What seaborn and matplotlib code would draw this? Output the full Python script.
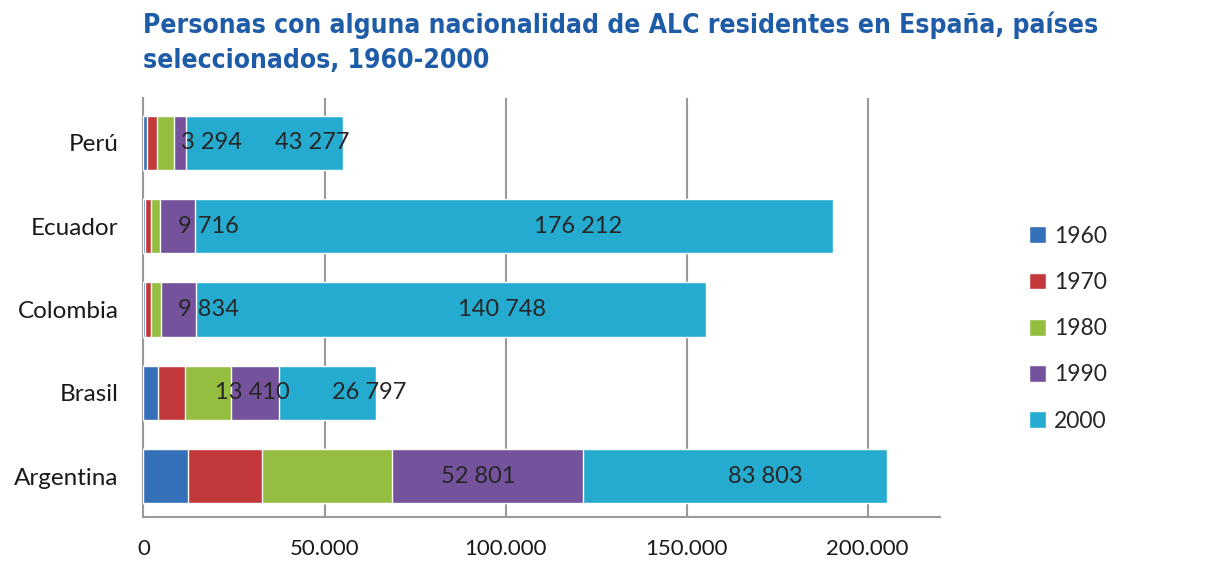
import numpy as np
import pandas as pd
import seaborn as sns
import matplotlib.pyplot as plt
from matplotlib.patches import Patch

# datos
paises = ["Perú", "Ecuador", "Colombia", "Brasil", "Argentina"]
anios = ["1960", "1970", "1980", "1990", "2000"]
v1960 = [1000, 400, 500, 3900, 12200]
v1970 = [2700, 1700, 1700, 7500, 20500]
v1980 = [4700, 2500, 2500, 12700, 36000]
v1990 = [3294, 9716, 9834, 13410, 52801]
v2000 = [43277, 176212, 140748, 26797, 83803]
colores = ["#3571b9", "#c3383a", "#95bd3f", "#74529c", "#25abcf"]

df = pd.DataFrame({"pais": paises, "1960": v1960, "1970": v1970,
                   "1980": v1980, "1990": v1990, "2000": v2000})

sns.set_style("white")
plt.rcParams["font.family"] = ["Lato", "DejaVu Sans"]

fig = plt.figure(figsize=(12.16, 5.87), dpi=100)
ax = fig.add_axes([0.118, 0.1193, 0.655, 0.714])

# barras apiladas: se dibujan los acumulados de mayor a menor
acum = df[anios].cumsum(axis=1)
for anio, col in reversed(list(zip(anios, colores))):
    sns.barplot(x=acum[anio], y=df["pais"], orient="h", color=col,
                width=0.65, saturation=1, ax=ax, zorder=3, order=paises)

# etiquetas en 1990 y 2000 (posicion aproximada como en excel)
for anio, frac, limite in [("1990", 0.45, 11000), ("2000", 0.6, 50000)]:
    inicio = acum[anio] - df[anio]
    for i, v in enumerate(df[anio]):
        # los segmentos estrechos llevan la etiqueta corrida a la derecha
        dx = 32 if v < limite else 0
        ax.annotate(f"{v:,}".replace(",", " "), (inicio[i] + v * frac, i),
                    xytext=(dx, 0), textcoords="offset pixels",
                    ha="center", va="center", fontsize=17, color="#262626", zorder=5)

ax.set_xlim(0, 220000)
ax.set_ylim(4.49, -0.54)
ax.set_xticks([0, 50000, 100000, 150000, 200000])
ax.set_xticklabels(["0", "50.000", "100.000", "150.000", "200.000"])
ax.grid(axis="x", color="#9a9a9a", linewidth=1.5, zorder=0)
ax.set_xlabel("")
ax.set_ylabel("")
ax.tick_params(axis="x", length=0, pad=16, labelsize=16, labelcolor="#1a1a1a")
ax.tick_params(axis="y", length=0, pad=18, labelsize=17.5, labelcolor="#1a1a1a")
for s in ["top", "right"]:
    ax.spines[s].set_visible(False)
for s in ["left", "bottom"]:
    ax.spines[s].set_color("#9a9a9a")
    ax.spines[s].set_linewidth(1.5)

handles = [Patch(facecolor=c, label=a) for a, c in zip(anios, colores)]
fig.legend(handles=handles, loc="center left", bbox_to_anchor=(0.829, 0.44),
           frameon=False, fontsize=16.5, labelspacing=1.1, handlelength=0.75,
           handleheight=0.75, handletextpad=0.35)

fig.text(0.118, 0.98, "Personas con alguna nacionalidad de ALC residentes en España, países\nseleccionados, 1960-2000",
         ha="left", va="top", fontsize=19, fontweight="bold", color="#1f5ca8",
         family="DejaVu Sans", fontstretch="condensed", linespacing=1.45)

fig.savefig("out.png", dpi=100)
